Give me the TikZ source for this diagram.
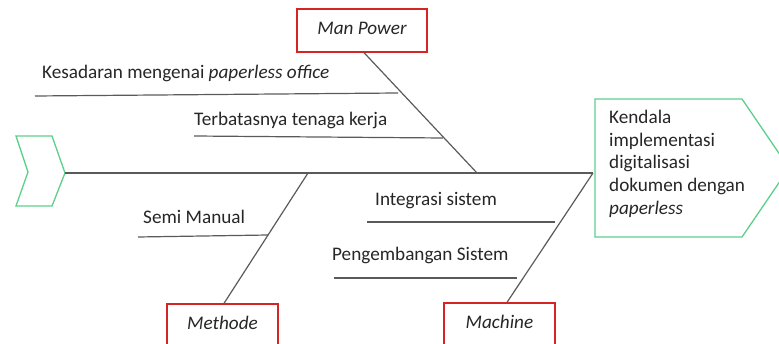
\documentclass[tikz,border=0pt]{standalone}
\usepackage{fontspec}
\setmainfont{Carlito}
\definecolor{khungdo}{RGB}{212,36,36}
\definecolor{khungxanh}{RGB}{93,207,138}
\definecolor{xuong}{RGB}{90,90,90}
\newcommand{\cochu}{\fontsize{19.2}{22.7}\selectfont}
\tikzset{
  chu/.style={font=\cochu, text=black!85, inner sep=0pt},
  nhom/.style={draw=khungdo, line width=1.3pt, minimum width=111pt, minimum height=43pt,
    inner sep=0pt, text height=13pt, text depth=4pt, font=\cochu\itshape, text=black!85},
  vien/.style={draw=khungxanh, line width=1.3pt, line join=miter},
  gach/.style={draw=xuong, line width=1.2pt}
}
\begin{document}
\begin{tikzpicture}[x=1pt, y=-1pt]
	\useasboundingbox (0,0) rectangle (779,344);
	
	% Đầu cá: hộp kết quả
	\draw[vien] (595,99) -- (742,99) -- (789,168) -- (742,237) -- (595,237) -- cycle;
	\node[chu, anchor=north west, align=left] (dau) at (609,110)
		{Kendala\\implementasi\\digitalisasi\\dokumen dengan\\\textit{paperless}};
	
	% Đuôi cá và xương sống
	\draw[vien] (16,136) -- (52,136) -- (65,173) -- (52,206) -- (16,206) -- (28,172) -- cycle;
	\coordinate (duoi) at (65,173);
	\coordinate (moc) at (593,173);
	\draw[gach] (duoi) -- (moc);
	
	% Các nhóm nguyên nhân
	\node[nhom, minimum width=130pt] (manpower) at (362,30.5) {Man Power};
	\node[nhom] (methode) at (222.5,325.5) {Methode};
	\node[nhom] (machine) at (499.5,324.5) {Machine};
	
	\coordinate (gocM) at (477,173);
	\coordinate (gocT) at (308,173);
	\draw[gach] ([xshift=2pt]manpower.south) -- (gocM);
	\draw[gach] (gocT) -- ([xshift=1.5pt]methode.north);
	\draw[gach] (moc) -- ([xshift=7.5pt]machine.north);
	
	% Nguyên nhân phụ
	\node[chu, anchor=base west] (kesadaran) at (42,79) {Kesadaran mengenai \textit{paperless office}};
	\draw[gach] (35,96) -- (398,93);
	\node[chu, anchor=base west] (terbatas) at (194,126) {Terbatasnya tenaga kerja};
	\draw[gach] (194,136) -- (443,138);
	\node[chu, anchor=base west] (semi) at (143,224) {Semi Manual};
	\draw[gach] (138,237) -- (268,235);
	\node[chu, anchor=base west] (integrasi) at (375,206) {Integrasi sistem};
	\draw[gach] (367,222) -- (555,222);
	\node[chu, anchor=base west] (pengembangan) at (332,261) {Pengembangan Sistem};
	\draw[gach] (334,278) -- (517,278);
\end{tikzpicture}
\end{document}
